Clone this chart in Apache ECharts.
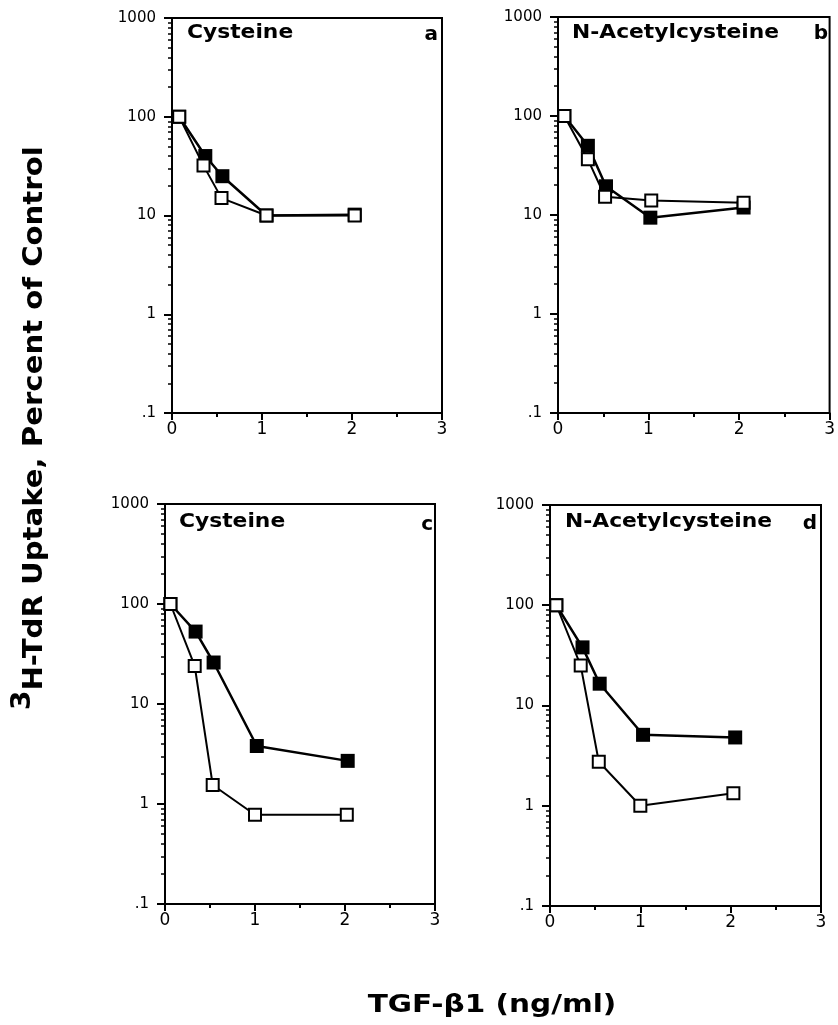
<!DOCTYPE html>
<html>
<head>
<meta charset="utf-8">
<script src="https://cdn.jsdelivr.net/npm/echarts@6/dist/echarts.min.js"></script>
<style>
  html, body { margin: 0; padding: 0; background: #fff; }
  #chart { width: 838px; height: 1025px; }
</style>
</head>
<body>
<div id="chart"></div>
<script>
// values (x = TGF-b1 ng/ml, y = % of control)
const aFilledX = [0.08, 0.37, 0.56, 1.05, 2.03]
const aFilledY = [100, 40, 25, 10, 10.2]
const aOpenX = [0.08, 0.35, 0.55, 1.05, 2.03]
const aOpenY = [100, 32, 15, 10, 10]

const bFilledX = [0.07, 0.33, 0.53, 1.02, 2.05]
const bFilledY = [100, 50, 19.5, 9.4, 11.9]
const bOpenX = [0.07, 0.33, 0.52, 1.03, 2.05]
const bOpenY = [100, 36.5, 15.3, 14, 13.3]

const cFilledX = [0.06, 0.34, 0.54, 1.02, 2.03]
const cFilledY = [100, 53, 26, 3.8, 2.7]
const cOpenX = [0.06, 0.33, 0.53, 1.0, 2.02]
const cOpenY = [100, 24, 1.55, 0.78, 0.78]

const dFilledX = [0.07, 0.36, 0.55, 1.03, 2.05]
const dFilledY = [100, 38, 16.5, 5.1, 4.8]
const dOpenX = [0.07, 0.34, 0.54, 1.0, 2.03]
const dOpenY = [100, 25, 2.75, 1.0, 1.33]

const panelTitles = ['Cysteine', 'N-Acetylcysteine', 'Cysteine', 'N-Acetylcysteine']
const panelLetters = ['a', 'b', 'c', 'd']

const yTicks = [0.1, 1, 10, 100, 1000]
const yTickLabels = ['.1', '1', '10', '100', '1000']
const yMinorTicks = [
  0.2, 0.3, 0.4, 0.5, 0.6, 0.7, 0.8, 0.9,
  2, 3, 4, 5, 6, 7, 8, 9,
  20, 30, 40, 50, 60, 70, 80, 90,
  200, 300, 400, 500, 600, 700, 800, 900
]
const xTitle = 'TGF-\u03b21 (ng/ml)'
const yTitle = 'H-TdR Uptake, Percent of Control'

const panels = [
  { fx: aFilledX, fy: aFilledY, ox: aOpenX, oy: aOpenY },
  { fx: bFilledX, fy: bFilledY, ox: bOpenX, oy: bOpenY },
  { fx: cFilledX, fy: cFilledY, ox: cOpenX, oy: cOpenY },
  { fx: dFilledX, fy: dFilledY, ox: dOpenX, oy: dOpenY }
]

// plot boxes in pixels
const boxes = [
  { left: 172, top: 18, width: 270, height: 395 },
  { left: 558, top: 17, width: 274, height: 396 },
  { left: 165, top: 504, width: 270, height: 400 },
  { left: 550, top: 505, width: 271, height: 401 }
]
const titlePos = [[187, 33], [572, 33], [179, 522], [565, 522]]
const letterPos = [[438, 35], [828, 34], [433, 525], [817, 524]]

const black = '#000'
const zip = (xs, ys) => xs.map((x, i) => [x, ys[i]])

const grid = boxes.map(b => ({
  ...b,
  show: true,
  borderColor: black,
  borderWidth: 2,
  backgroundColor: 'transparent'
}))

const xAxis = boxes.map((b, i) => ({
  type: 'value',
  gridIndex: i,
  min: 0,
  max: 3,
  interval: 1,
  axisLine: { lineStyle: { color: black, width: 2 } },
  axisTick: { length: 7, lineStyle: { color: black, width: 2 } },
  minorTick: { show: true, splitNumber: 2, length: 4, lineStyle: { color: black, width: 2 } },
  splitLine: { show: false },
  minorSplitLine: { show: false },
  axisLabel: { color: black, fontSize: 17, fontFamily: 'DejaVu Sans', margin: 8 }
}))

const yAxis = []
boxes.forEach((b, i) => {
  yAxis.push({
    type: 'log',
    logBase: 10,
    gridIndex: i,
    min: 0.1,
    max: 1000,
    position: 'left',
    axisLine: { lineStyle: { color: black, width: 2 } },
    axisTick: { length: 8, customValues: yTicks, lineStyle: { color: black, width: 2 } },
    splitLine: { show: false },
    axisLabel: {
      customValues: yTicks,
      color: black,
      fontSize: 15,
      fontFamily: 'DejaVu Sans',
      margin: 16,
      formatter: v => yTickLabels[yTicks.indexOf(v)] ?? String(v)
    }
  })
  // minor log ticks
  yAxis.push({
    type: 'log',
    logBase: 10,
    gridIndex: i,
    min: 0.1,
    max: 1000,
    position: 'left',
    axisLine: { show: false },
    axisTick: { length: 4, customValues: yMinorTicks, lineStyle: { color: black, width: 1.5 } },
    axisLabel: { show: false },
    splitLine: { show: false }
  })
})

const series = []
panels.forEach((p, i) => {
  series.push({
    type: 'line',
    xAxisIndex: i,
    yAxisIndex: i * 2,
    data: zip(p.fx, p.fy),
    symbol: 'rect',
    symbolSize: 14,
    itemStyle: { color: black },
    lineStyle: { color: black, width: 2.5 },
    z: 2
  })
  series.push({
    type: 'line',
    xAxisIndex: i,
    yAxisIndex: i * 2,
    data: zip(p.ox, p.oy),
    symbol: 'rect',
    symbolSize: 12,
    showAllSymbol: true,
    itemStyle: { color: '#fff', borderColor: black, borderWidth: 2 },
    lineStyle: { color: black, width: 2 },
    z: 3
  })
})

const bold = (size) => ({ font: `bold ${size}px "DejaVu Sans"`, fill: black })
const graphic = []
panelTitles.forEach((t, i) => {
  graphic.push({
    type: 'text',
    x: titlePos[i][0],
    y: titlePos[i][1],
    scaleX: 1.09,
    style: { text: t, ...bold(20), textAlign: 'left', textVerticalAlign: 'middle' }
  })
  graphic.push({
    type: 'text',
    x: letterPos[i][0],
    y: letterPos[i][1],
    style: { text: panelLetters[i], ...bold(20), textAlign: 'right', textVerticalAlign: 'middle' }
  })
})
graphic.push({
  type: 'text',
  x: 492,
  y: 1006,
  scaleX: 1.23,
  style: { text: xTitle, ...bold(24), textAlign: 'center', textVerticalAlign: 'middle' }
})
graphic.push({
  type: 'group',
  x: 35,
  y: 710,
  rotation: Math.PI / 2,
  scaleX: 1.08,
  children: [
    { type: 'text', x: 0, y: -12, style: { text: '3', ...bold(26), textAlign: 'left', textVerticalAlign: 'middle' } },
    { type: 'text', x: 18, y: 0, style: { text: yTitle, ...bold(27), textAlign: 'left', textVerticalAlign: 'middle' } }
  ]
})

const chart = echarts.init(document.getElementById('chart'))
chart.setOption({
  backgroundColor: '#fff',
  animation: false,
  grid,
  xAxis,
  yAxis,
  series,
  graphic
})
</script>
</body>
</html>
